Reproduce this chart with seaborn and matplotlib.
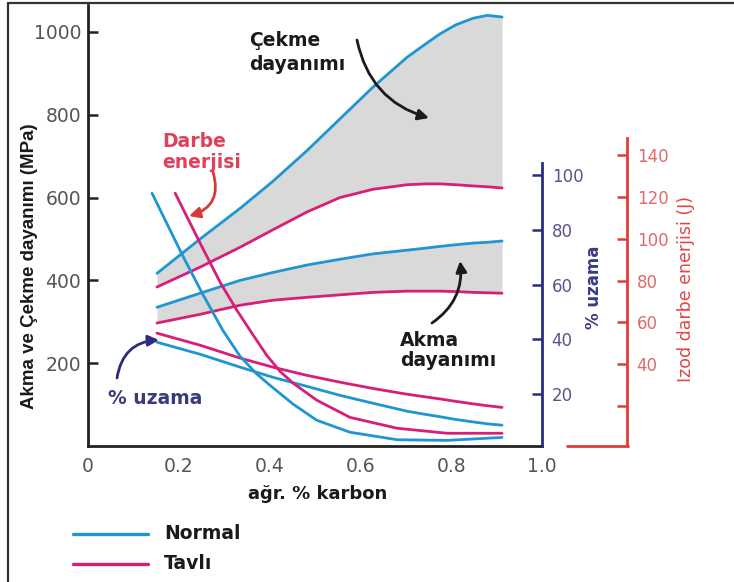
import matplotlib
matplotlib.use("Agg")
import matplotlib.pyplot as plt
from matplotlib.lines import Line2D
import seaborn as sns

# ---------------- data ----------------
carbon = [0.152, 0.247, 0.335, 0.407, 0.482, 0.555, 0.628, 0.703, 0.745,
          0.775, 0.81, 0.848, 0.88, 0.912]
tensile_normal = [417, 500, 574, 639, 713, 790, 867, 939, 972, 995, 1017, 1033, 1040, 1036]
tensile_annealed = [384, 432, 480, 522, 565, 600, 620, 631, 633, 633, 631, 628, 626, 623]
yield_normal = [335, 369, 400, 419, 437, 451, 464, 473, 478, 482, 486, 490, 492, 495]
yield_annealed = [297, 318, 340, 352, 359, 365, 371, 374, 374, 374, 373, 371, 370, 369]
elong_normal = [39.0, 34.6, 29.9, 26.2, 22.9, 19.6, 16.7, 13.8, 12.6, 11.8, 10.8, 9.9, 9.2, 8.7]
elong_annealed = [42.3, 37.9, 33.2, 29.9, 26.9, 24.4, 22.1, 20.0, 19.0, 18.3, 17.4, 16.5, 15.8, 15.2]

impact_normal_x = [0.141, 0.209, 0.253, 0.297, 0.335, 0.370, 0.401, 0.452, 0.504,
                   0.577, 0.681, 0.791, 0.912]
impact_normal = [121.8, 91.7, 73.4, 56.2, 43.8, 35.7, 29.9, 20.9, 13.2, 7.5, 3.9, 3.6, 5.0]
impact_annealed_x = [0.192, 0.247, 0.291, 0.328, 0.363, 0.394, 0.423, 0.452, 0.504,
                     0.577, 0.681, 0.791, 0.912]
impact_annealed = [121.8, 97.9, 79.2, 65.8, 54.2, 44.2, 36.6, 30.9, 22.8, 14.6, 9.4, 7.0, 7.0]

x_ticks = [0, 0.2, 0.4, 0.6, 0.8, 1.0]
x_ticklabels = ["0", "0.2", "0.4", "0.6", "0.8", "1.0"]
mpa_ticks = [200, 400, 600, 800, 1000]
elong_ticks = [20, 40, 60, 80, 100]
impact_ticks = [20, 40, 60, 80, 100, 120, 140]
impact_ticklabels = ["", "40", "60", "80", "100", "120", "140"]

# ---------------- style ----------------
sns.set_style("white")
plt.rcParams["font.family"] = ["DejaVu Sans"]

BLUE = "#1e96d2"
MAGENTA = "#d71e78"
GRAY = "#d9d9d9"
NAVY = "#2b2b80"
RED = "#e03c3c"
DARK = "#222222"

W, H = 734, 582
fig = plt.figure(figsize=(W / 100, H / 100), dpi=100)


def fxy(px, py):
    return (px / W, 1 - py / H)


ax = fig.add_axes([88 / W, 1 - 446 / H, (542 - 88) / W, (446 - 5) / H])
ax.set_xlim(0, 1.0)
ax.set_ylim(0, 1065)

# grey bands
ax.fill_between(carbon, tensile_annealed, tensile_normal, color=GRAY, lw=0, zorder=0.5)
ax.fill_between(carbon, yield_annealed, yield_normal, color=GRAY, lw=0, zorder=0.5)

LW = 2.0
sns.lineplot(x=carbon, y=tensile_normal, ax=ax, color=BLUE, lw=LW)
sns.lineplot(x=carbon, y=tensile_annealed, ax=ax, color=MAGENTA, lw=LW)
sns.lineplot(x=carbon, y=yield_normal, ax=ax, color=BLUE, lw=LW)
sns.lineplot(x=carbon, y=yield_annealed, ax=ax, color=MAGENTA, lw=LW)

for s in ["top", "right"]:
    ax.spines[s].set_visible(False)
for s in ["left", "bottom"]:
    ax.spines[s].set_color(DARK)
    ax.spines[s].set_linewidth(2.0)

ax.set_xticks(x_ticks)
ax.set_xticklabels(x_ticklabels)
ax.set_xticks([0.3, 0.5, 0.7], minor=True)
ax.set_yticks(mpa_ticks)
ax.tick_params(axis="x", which="both", direction="in", length=7, width=1.8,
               color=DARK, labelsize=13.5, labelcolor="#555555", pad=8)
ax.tick_params(axis="y", direction="in", length=7, width=1.8, color=DARK,
               labelsize=13.5, labelcolor="#555555", pad=5)
ax.set_xlabel("")
ax.set_ylabel("")

# % elongation axis
ax2 = ax.twinx()
e_lo, e_hi = 1.11, 162.1
ax2.set_ylim(e_lo, e_hi)
sns.lineplot(x=carbon, y=elong_normal, ax=ax2, color=BLUE, lw=LW)
sns.lineplot(x=carbon, y=elong_annealed, ax=ax2, color=MAGENTA, lw=LW)
for s in ["top", "left", "bottom"]:
    ax2.spines[s].set_visible(False)
ax2.spines["right"].set_color(NAVY)
ax2.spines["right"].set_linewidth(2.0)
ax2.spines["right"].set_bounds(e_lo, 104.4)
ax2.set_yticks(elong_ticks)
ax2.tick_params(axis="y", direction="in", length=7, width=1.8, color=NAVY,
                labelsize=12, labelcolor="#55558a", pad=7)
ax2.set_ylabel("")

# impact energy axis
ax3 = ax.twinx()
i_lo, i_hi = 0.91, 211.8
ax3.set_ylim(i_lo, i_hi)
sns.lineplot(x=impact_normal_x, y=impact_normal, ax=ax3, color=BLUE, lw=LW)
sns.lineplot(x=impact_annealed_x, y=impact_annealed, ax=ax3, color=MAGENTA, lw=LW)
for s in ["top", "left", "bottom"]:
    ax3.spines[s].set_visible(False)
ax3.spines["right"].set_position(("axes", (627 - 88) / (542 - 88)))
ax3.spines["right"].set_color(RED)
ax3.spines["right"].set_linewidth(2.0)
ax3.spines["right"].set_bounds(i_lo, 148)
ax3.set_yticks(impact_ticks)
ax3.set_yticklabels(impact_ticklabels)
ax3.tick_params(axis="y", direction="in", length=7, width=1.8, color=RED,
                labelsize=12, labelcolor="#e06a6a", pad=7)
ax3.set_ylabel("")
fig.add_artist(Line2D([567 / W, 628 / W], [1 - 446 / H] * 2, color=RED, lw=2.0))

# frame
fig.add_artist(Line2D([8 / W, 1], [1 - 3 / H] * 2, color="#333333", lw=1.6))
fig.add_artist(Line2D([8 / W, 8 / W], [0, 1 - 3 / H], color="#333333", lw=1.6))

# axis labels
fig.text(*fxy(30, 266), "Akma ve Çekme dayanımı (MPa)", rotation=90, ha="center",
         va="center", fontsize=13.5, fontweight="bold", color="#1a1a1a",
         family=["Liberation Sans", "DejaVu Sans"])
fig.text(*fxy(318, 499), "ağr. % karbon", ha="center", va="baseline",
         fontsize=13, fontweight="bold", color="#1a1a1a")
fig.text(*fxy(594, 287), "% uzama", rotation=90, ha="center", va="center",
         fontsize=12, fontweight="bold", color="#3a3a80")
fig.text(*fxy(686, 289), "Izod darbe enerjisi (J)", rotation=90, ha="center",
         va="center", fontsize=12.5, color="#e04545")

# annotations
AFS = 13.5
fig.text(*fxy(249, 46), "Çekme", fontsize=AFS, fontweight="bold", color="#1a1a1a", va="baseline")
fig.text(*fxy(249, 70), "dayanımı", fontsize=AFS, fontweight="bold", color="#1a1a1a", va="baseline")
fig.text(*fxy(162, 147), "Darbe", fontsize=AFS, fontweight="bold", color="#e0405a", va="baseline")
fig.text(*fxy(162, 168), "enerjisi", fontsize=AFS, fontweight="bold", color="#e0405a", va="baseline")
fig.text(*fxy(108, 404), "% uzama", fontsize=AFS, fontweight="bold", color="#3a3a80", va="baseline")
fig.text(*fxy(400, 346), "Akma", fontsize=AFS, fontweight="bold", color="#1a1a1a", va="baseline")
fig.text(*fxy(400, 366), "dayanımı", fontsize=AFS, fontweight="bold", color="#1a1a1a", va="baseline")


def arrow(p0, p1, rad, color):
    ax.annotate("", xy=fxy(*p1), xytext=fxy(*p0), xycoords="figure fraction",
                textcoords="figure fraction", annotation_clip=False,
                arrowprops=dict(arrowstyle="-|>", connectionstyle=f"arc3,rad={rad}",
                                color=color, lw=2.0, mutation_scale=16,
                                shrinkA=0, shrinkB=0))


arrow((357, 40), (429, 118), 0.3, "#1a1a1a")
arrow((213, 172), (189, 216), -0.5, "#d83a3a")
arrow((117, 378), (159, 340), -0.4, "#2b2b80")
arrow((432, 323), (460, 261), 0.3, "#1a1a1a")

# legend
fig.add_artist(Line2D([73 / W, 148 / W], [1 - 534 / H] * 2, color=BLUE, lw=2.4))
fig.add_artist(Line2D([73 / W, 148 / W], [1 - 564 / H] * 2, color=MAGENTA, lw=2.4))
fig.text(*fxy(164, 539), "Normal", fontsize=13.5, fontweight="bold", color="#1a1a1a", va="baseline")
fig.text(*fxy(164, 569), "Tavlı", fontsize=13.5, fontweight="bold", color="#1a1a1a", va="baseline")

fig.savefig("out.png", dpi=100, facecolor="white")
